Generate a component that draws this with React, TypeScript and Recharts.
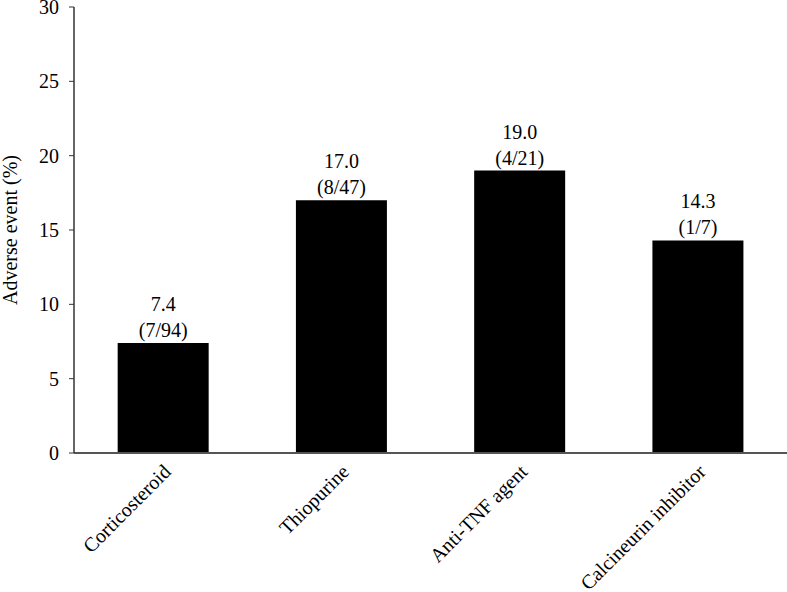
import React from 'react';
import { BarChart, Bar, XAxis, YAxis, LabelList, Label } from 'recharts';

const categories = ['Corticosteroid', 'Thiopurine', 'Anti-TNF agent', 'Calcineurin inhibitor'];
const rates = [7.4, 17.0, 19.0, 14.3];
const counts = ['(7/94)', '(8/47)', '(4/21)', '(1/7)'];
const yTicks = [0, 5, 10, 15, 20, 25, 30];

const data = categories.map((name, i) => ({ name, rate: rates[i], count: counts[i] }));

const FONT = "'Liberation Serif', 'DejaVu Serif', serif";
const FS = 20;

const XTick = (props: any) => {
  const { x, y, payload } = props;
  const ax = x + 9;
  const ay = y + 12;
  return (
    <text x={ax} y={ay} textAnchor="end" transform={`rotate(-45, ${ax}, ${ay})`}
      style={{ fontFamily: FONT }} fontSize={FS} fill="#000">
      {payload.value}
    </text>
  );
};

const YTick = (props: any) => {
  const { x, y, payload } = props;
  return (
    <text x={x} y={y + 7} textAnchor="end" style={{ fontFamily: FONT }} fontSize={FS} fill="#000">
      {payload.value}
    </text>
  );
};

const ValueLabel = (props: any) => {
  const { x, y, width, index } = props;
  const cx = x + width / 2;
  return (
    <g style={{ fontFamily: FONT }} fontSize={FS} fill="#000">
      <text x={cx} y={y - 32} textAnchor="middle">{rates[index].toFixed(1)}</text>
      <text x={cx} y={y - 6} textAnchor="middle">{counts[index]}</text>
    </g>
  );
};

const YLabel = (props: any) => {
  const { viewBox } = props;
  const cy = viewBox.y + viewBox.height / 2;
  const lx = 17;
  return (
    <text x={lx} y={cy} textAnchor="middle" transform={`rotate(-90, ${lx}, ${cy})`}
      style={{ fontFamily: FONT }} fontSize={FS} fill="#000">
      Adverse event (%)
    </text>
  );
};

export default function App() {
  return (
    <div style={{ position: 'absolute', left: 0, top: 0, width: 787, height: 592, background: '#fff', fontFamily: FONT }}>
      <BarChart width={787} height={592} data={data} style={{ fontFamily: FONT }}
        margin={{ top: 7, right: 0, bottom: 0, left: 0 }} barCategoryGap="24.5%">
        <XAxis dataKey="name" tickLine={false} interval={0} height={139}
          axisLine={{ stroke: '#555', strokeWidth: 2 }} tick={<XTick />} />
        <YAxis width={74} domain={[0, 30]} ticks={yTicks} interval={0}
          axisLine={{ stroke: '#333', strokeWidth: 1.5 }} tickLine={{ stroke: '#333' }}
          tickSize={5} tickMargin={10} tick={<YTick />}>
          <Label content={<YLabel />} />
        </YAxis>
        <Bar dataKey="rate" fill="#000" isAnimationActive={false}>
          <LabelList dataKey="rate" content={<ValueLabel />} />
        </Bar>
      </BarChart>
    </div>
  );
}
